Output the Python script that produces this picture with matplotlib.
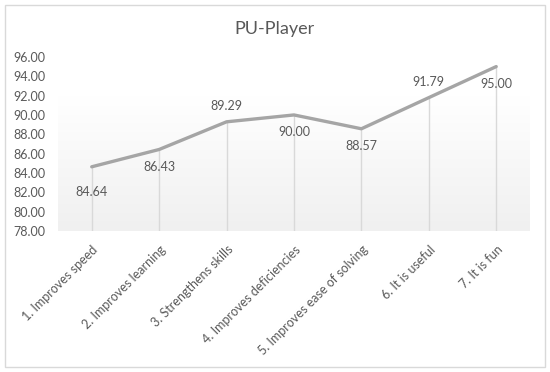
import numpy as np
import matplotlib
matplotlib.use('Agg')
import matplotlib.pyplot as plt
from matplotlib.patches import Rectangle

categories = ['1. Improves speed', '2. Improves learning', '3. Strengthens skills',
              '4. Improves deficiencies', '5. Improves ease of solving',
              '6. It is useful', '7. It is fun']
values = [84.64, 86.43, 89.29, 90.00, 88.57, 91.79, 95.00]
# where each data label sits: 1 above, -1 below
label_side = [-1, -1, 1, -1, -1, 1, -1]
yticks = np.arange(78, 97, 2)

plt.rcParams['font.family'] = ['Lato', 'DejaVu Sans']
text_color = '#595959'

fig = plt.figure(figsize=(5.5, 3.72), dpi=100)
ax = fig.add_axes([0.1055, 0.379, 0.858, 0.468])

x = np.arange(len(categories))

# gradient background of the plot area: white on top, light gray at bottom
grad = np.linspace(0.0, 1.0, 256).reshape(-1, 1)
grad = np.clip(grad * 1.3, 0, 1)
cmap = matplotlib.colors.LinearSegmentedColormap.from_list('bg', ['#f0f0f0', '#ffffff'])
ax.imshow(grad, extent=[-0.5, 6.5, 78, 96], aspect='auto', cmap=cmap,
          origin='lower', zorder=0, vmin=0, vmax=1)

ax.vlines(x, 78, values, color='#d9d9d9', lw=1, zorder=1)
ax.plot(x, values, color='#a5a5a5', lw=2.4, zorder=2, solid_capstyle='round')

for xi, v, side in zip(x, values, label_side):
    off = 7 if side > 0 else -8
    if xi == 0:
        off = -14
    ax.annotate(f'{v:.2f}', (xi, v), xytext=(0, off), textcoords='offset points',
                ha='center', va='bottom' if side > 0 else 'top',
                fontsize=9, color=text_color)

ax.set_xlim(-0.5, 6.5)
ax.set_ylim(78, 96)
ax.set_yticks(yticks)
ax.set_yticklabels([f'{t:.2f}' for t in yticks], fontsize=9, color=text_color)
ax.set_xticks(x)
ax.set_xticklabels(categories, rotation=45, ha='right', va='top',
                   rotation_mode='anchor', fontsize=9, color=text_color)
ax.tick_params(length=0, pad=9)
ax.tick_params(axis='y', pad=9)
for s in ax.spines.values():
    s.set_visible(False)

fig.text(0.5, 0.922, 'PU-Player', ha='center', va='center', fontsize=13, color=text_color)

fig.patches.append(Rectangle((5 / 550, 5 / 372), 540 / 550, 362 / 372,
                             transform=fig.transFigure, fill=False,
                             edgecolor='#d9d9d9', lw=1))

fig.savefig('out.png', dpi=100)
